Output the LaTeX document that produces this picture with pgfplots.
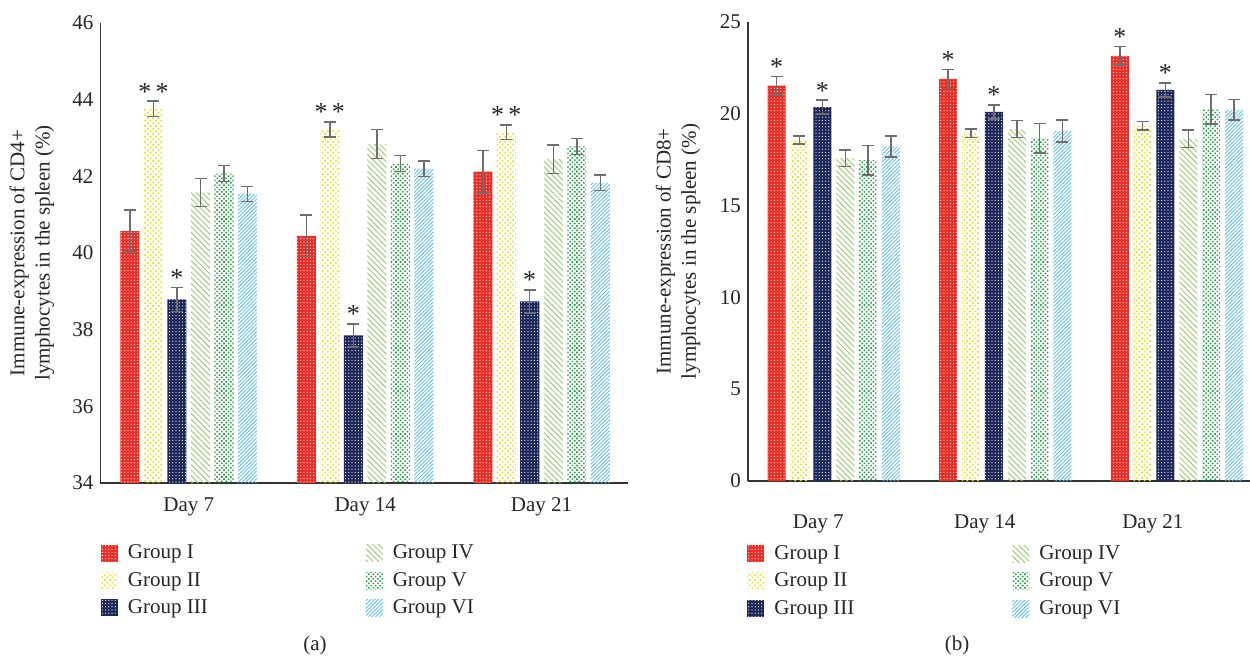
\documentclass[border=0pt]{standalone}
\usepackage{fontspec}
\setmainfont{Liberation Serif}
\usepackage{pgfplots}
\pgfplotsset{compat=1.18}
\usetikzlibrary{patterns.meta}

\definecolor{cI}{HTML}{EE2C24}
\definecolor{cII}{HTML}{EEE02A}
\definecolor{cIII}{HTML}{1B2759}
\definecolor{cIV}{HTML}{A0CC78}
\definecolor{cV}{HTML}{239E45}
\definecolor{cVI}{HTML}{62BEEC}
\definecolor{errgray}{HTML}{6E6E6E}
\definecolor{axisgray}{HTML}{333333}
\definecolor{txt}{HTML}{262626}

\pgfplotsset{
  gI/.style={draw=none, fill=cI, postaction={pattern={Dots[distance=1.6pt, radius=0.3pt]}, pattern color=white}},
  gII/.style={draw=none, pattern={Dots[angle=45, distance=1.9pt, radius=0.6pt]}, pattern color=cII},
  gIII/.style={draw=none, fill=cIII, postaction={pattern={Dots[distance=1.6pt, radius=0.3pt]}, pattern color=white}},
  gIV/.style={draw=none, pattern={Lines[angle=-45, distance=2pt, line width=0.5pt]}, pattern color=cIV},
  gV/.style={draw=none, pattern={Dots[angle=45, distance=1.6pt, radius=0.55pt]}, pattern color=cV},
  gVI/.style={draw=none, pattern={Lines[angle=45, distance=1.3pt, line width=0.45pt]}, pattern color=cVI},
  eb/.style={
    error bars/y dir=both, error bars/y explicit,
    error bars/error bar style={draw=errgray, line width=0.75pt},
    error bars/error mark options={rotate=90, mark size=3pt, draw=errgray, line width=0.75pt}},
  common/.style={
    scale only axis,
    axis x line*=bottom, axis y line*=left,
    axis line style={-, draw=axisgray, line width=0.6pt},
    major tick length=0pt,
    /pgf/number format/assume math mode=true,
    tick label style={text=txt},
    label style={text=txt},
    legend columns=3, transpose legend,
    legend cell align=left,
    legend image code/.code={\path[##1] (0pt,-4.25pt) rectangle (8.5pt,4.25pt);},
    legend style={draw=none, fill=none, inner sep=0pt, text=txt, row sep=1.2pt,
      /tikz/every even column/.append style={column sep=77pt},
      /tikz/every odd column/.append style={column sep=3pt}},
    stars/.style={only marks, mark=*, mark size=0pt, mark options={draw=none, fill=none}, forget plot,
      nodes near coords, point meta=explicit symbolic,
      every node near coord/.append style={anchor=south, inner sep=0.3pt, text=txt, font=\fontsize{13}{15}\selectfont}},
  },
}

\begin{document}
\begin{tikzpicture}[font=\fontsize{10.5}{12.6}\selectfont]

% ---------------- Panel (a) ----------------
\begin{axis}[common,
  at={(50.25pt,-241.5pt)}, anchor=south west,
  width=263.75pt, height=230pt,
  xmin=-0.5, xmax=2.49, ymin=34, ymax=46,
  xtick={0,1,2}, xticklabels={Day 7, Day 14, Day 21},
  xticklabel style={yshift=-4pt},
  ytick={34,36,...,46},
  ylabel={Immune-expression of CD4+\\lymphocytes in the spleen (\%)},
  ylabel style={align=center, at={(axis description cs:-0.13,0.5)}, anchor=center},
  legend style={at={(axis description cs:0,-0.125)}, anchor=north west},
]
\addplot[ybar, bar width=0.108, bar shift=0pt, gI, eb] coordinates {
  (-0.333,40.57) +- (0,0.55) (0.667,40.45) +- (0,0.54) (1.667,42.12) +- (0,0.55)};
\addplot[ybar, bar width=0.108, bar shift=0pt, gII, eb] coordinates {
  (-0.2,43.76) +- (0,0.20) (0.8,43.22) +- (0,0.20) (1.8,43.15) +- (0,0.19)};
\addplot[ybar, bar width=0.108, bar shift=0pt, gIII, eb] coordinates {
  (-0.067,38.79) +- (0,0.31) (0.933,37.85) +- (0,0.30) (1.933,38.74) +- (0,0.30)};
\addplot[ybar, bar width=0.108, bar shift=0pt, gIV, eb] coordinates {
  (0.067,41.58) +- (0,0.37) (1.067,42.84) +- (0,0.38) (2.067,42.45) +- (0,0.37)};
\addplot[ybar, bar width=0.108, bar shift=0pt, gV, eb] coordinates {
  (0.2,42.07) +- (0,0.21) (1.2,42.34) +- (0,0.21) (2.2,42.78) +- (0,0.21)};
\addplot[ybar, bar width=0.108, bar shift=0pt, gVI, eb] coordinates {
  (0.333,41.54) +- (0,0.20) (1.333,42.20) +- (0,0.20) (2.333,41.83) +- (0,0.20)};
\addplot[stars] coordinates {
  (-0.2,43.96) [{*\,*}] (0.8,43.42) [{*\,*}] (1.8,43.34) [{*\,*}]
  (-0.067,39.10) [*] (0.933,38.15) [*] (1.933,39.04) [*]};
\legend{Group I, Group II, Group III, Group IV, Group V, Group VI}
\end{axis}

% ---------------- Panel (b) ----------------
\begin{axis}[common,
  at={(374pt,-240.5pt)}, anchor=south west,
  width=251pt, height=229.5pt,
  xmin=-0.5, xmax=2.426, ymin=0, ymax=25,
  xtick={-0.09,0.88,1.86}, xticklabels={Day 7, Day 14, Day 21},
  xticklabel style={yshift=-13.5pt},
  ytick={0,5,...,25},
  ylabel={Immune-expression of CD8+\\lymphocytes in the spleen (\%)},
  ylabel style={align=center, at={(axis description cs:-0.139,0.5)}, anchor=center},
  legend style={at={(axis description cs:-0.002,-0.131)}, anchor=north west},
]
\addplot[ybar, bar width=0.105, bar shift=0pt, gI, eb] coordinates {
  (-0.333,21.53) +- (0,0.50) (0.667,21.90) +- (0,0.52) (1.667,23.16) +- (0,0.51)};
\addplot[ybar, bar width=0.105, bar shift=0pt, gII, eb] coordinates {
  (-0.2,18.57) +- (0,0.22) (0.8,18.94) +- (0,0.23) (1.8,19.34) +- (0,0.23)};
\addplot[ybar, bar width=0.105, bar shift=0pt, gIII, eb] coordinates {
  (-0.067,20.37) +- (0,0.37) (0.933,20.10) +- (0,0.38) (1.933,21.30) +- (0,0.38)};
\addplot[ybar, bar width=0.105, bar shift=0pt, gIV, eb] coordinates {
  (0.067,17.58) +- (0,0.46) (1.067,19.17) +- (0,0.46) (2.067,18.64) +- (0,0.47)};
\addplot[ybar, bar width=0.105, bar shift=0pt, gV, eb] coordinates {
  (0.2,17.48) +- (0,0.80) (1.2,18.67) +- (0,0.80) (2.2,20.24) +- (0,0.80)};
\addplot[ybar, bar width=0.105, bar shift=0pt, gVI, eb] coordinates {
  (0.333,18.23) +- (0,0.57) (1.333,19.06) +- (0,0.59) (2.333,20.22) +- (0,0.57)};
\addplot[stars] coordinates {
  (-0.333,22.03) [*] (0.667,22.42) [*] (1.667,23.67) [*]
  (-0.067,20.74) [*] (0.933,20.48) [*] (1.933,21.68) [*]};
\legend{Group I, Group II, Group III, Group IV, Group V, Group VI}
\end{axis}

\node[text=txt] at (157.5pt,-322.5pt) {(a)};
\node[text=txt] at (478.5pt,-322.5pt) {(b)};

\pgfresetboundingbox
\path[use as bounding box] (0pt,0pt) rectangle (625pt,-329pt);
\end{tikzpicture}
\end{document}
